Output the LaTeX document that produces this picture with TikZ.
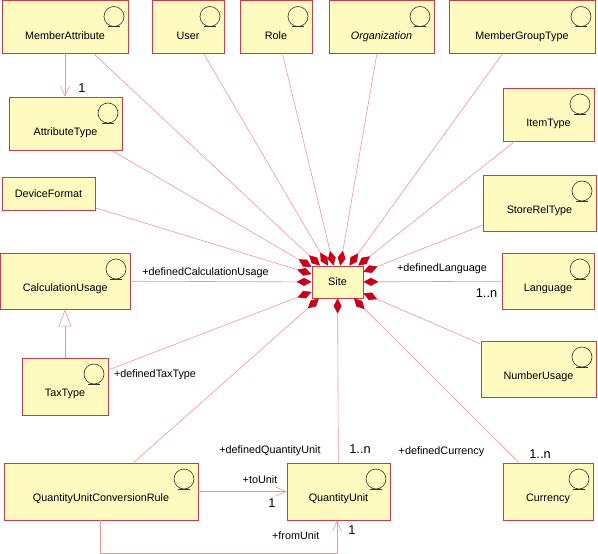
\documentclass[tikz,border=0pt]{standalone}
\usepackage{fontspec}
\setmainfont{Liberation Sans}
\usetikzlibrary{arrows.meta}
\definecolor{boxfill}{RGB}{255,250,192}
\definecolor{boxline}{RGB}{204,60,70}
\definecolor{connc}{RGB}{238,150,150}
\definecolor{dred}{RGB}{200,0,25}
\tikzset{
  box/.style={draw=boxline, fill=boxfill, line width=0.9pt, inner sep=0pt},
  conn/.style={draw=connc, line width=0.6pt},
  comp/.style={conn, {Diamond[length=15pt,width=8pt,color=dred]}-},
  openarr/.style={conn, -{Straight Barb[length=10pt,width=9pt,color=connc]}},
  gener/.style={conn, -{Triangle[open,length=17pt,width=13pt,color=connc,fill=white]}},
  txt/.style={font=\fontsize{10.8}{13}\selectfont, inner sep=0pt, anchor=base},
  mult/.style={font=\fontsize{12.8}{15}\selectfont, inner sep=0pt, anchor=base},
  icon/.style={draw=black!80, line width=0.6pt}
}
% #1 name, #2 left, #3 top, #4 right, #5 bottom, #6 text
\newcommand\umlbox[6]{%
  \pgfmathsetmacro\ubW{#4-#2}\pgfmathsetmacro\ubH{#5-#3}%
  \pgfmathsetmacro\ubX{(#2+#4)/2}\pgfmathsetmacro\ubY{(#3+#5)/2}%
  \pgfmathsetmacro\ubT{#3+38.8}\pgfmathsetmacro\ubIX{#4-14}\pgfmathsetmacro\ubIY{#3+16}%
  \node[box, minimum width=\ubW pt, minimum height=\ubH pt] (#1) at (\ubX,\ubY) {};
  \node[txt] (#1-t) at (\ubX,\ubT) {#6};
  \draw[icon] (\ubIX,\ubIY) circle[radius=10pt];
  \draw[icon] (\ubIX-6,\ubIY+10) -- (\ubIX+6,\ubIY+10);
}
\begin{document}
\begin{tikzpicture}[x=1pt,y=-1pt]
\useasboundingbox (0,0) rectangle (598,554);

% boxes
\umlbox{ma}{2}{0.5}{128}{53}{MemberAttribute}
\umlbox{user}{152}{0.5}{224}{53}{User}
\umlbox{role}{240}{0.5}{312}{53}{Role}
\umlbox{org}{329}{0.5}{434}{53}{\itshape Organization}
\umlbox{mgt}{449}{0.5}{595}{53}{MemberGroupType}
\umlbox{at}{9}{97}{122}{150}{AttributeType}
\umlbox{it}{503}{88}{594}{141}{ItemType}
\node[box, minimum width=93pt, minimum height=33pt, font=\fontsize{10.8}{13}\selectfont] (df) at (48.5,193.5) {DeviceFormat};
\umlbox{srt}{483}{175}{596}{231}{StoreRelType}
\umlbox{cu}{0.5}{253}{130}{309}{CalculationUsage}
\node[box, minimum width=51pt, minimum height=32pt, font=\fontsize{10.8}{13}\selectfont] (site) at (337.5,282) {Site};
\umlbox{lang}{502}{253}{594}{309}{Language}
\umlbox{tt}{22}{358}{108}{415}{TaxType}
\umlbox{nu}{481}{341}{596}{397}{NumberUsage}
\umlbox{qucr}{4}{463}{198}{520}{QuantityUnitConversionRule}
\umlbox{qu}{287}{463}{390}{520}{QuantityUnit}
\umlbox{cur}{503}{463}{593}{520}{Currency}

% compositions to Site
\foreach \n in {ma,user,role,org,mgt,at,it,df,srt,cu,lang,tt,nu,qucr,qu,cur}
  \draw[comp] (site) -- (\n);

% other connectors
\draw[openarr] (ma.south) -- (ma.south |- at.north);
\draw[gener] (tt.north) -- (tt.north |- cu.south);
\draw[openarr] (qucr.east) -- (qucr.east -| qu.west);
\coordinate (fu1) at (100,553);
\coordinate (fu2) at (337,553);
\draw[openarr] (qucr.south -| fu1) -- (fu1) -- (fu2) -- (fu2 |- qu.south);

% labels
\node[mult] (m1) at (82,92.7) {1};
\node[txt] (l1) at (205.5,275) {+definedCalculationUsage};
\node[txt] (l2) at (442,271) {+definedLanguage};
\node[mult] (m2) at (486.5,297.7) {1..n};
\node[txt] (l3) at (155,377) {+definedTaxType};
\node[txt] (l4) at (270,453) {+definedQuantityUnit};
\node[mult] (m3) at (360,453.3) {1..n};
\node[txt] (l5) at (441.5,454) {+definedCurrency};
\node[mult] (m4) at (540,458.3) {1..n};
\node[txt] (l6) at (260,483.3) {+toUnit};
\node[mult] (m5) at (272,507.3) {1};
\node[txt] (l7) at (295.7,539.3) {+fromUnit};
\node[mult] (m6) at (352,534.3) {1};
\end{tikzpicture}
\end{document}
